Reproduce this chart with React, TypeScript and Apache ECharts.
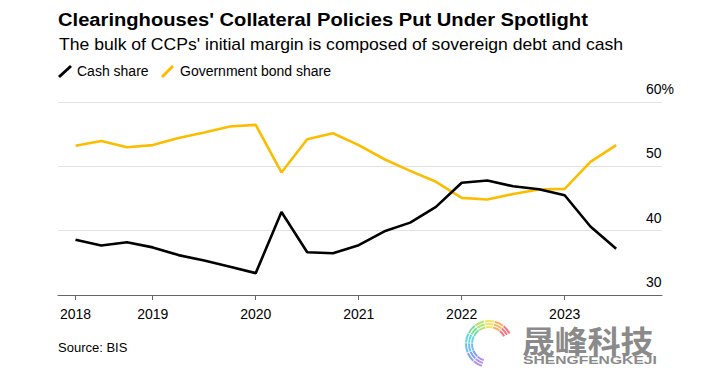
import React, { useEffect, useRef } from "react";
import * as echarts from "echarts";

const titleText = "Clearinghouses' Collateral Policies Put Under Spotlight";
const subtitleText = "The bulk of CCPs' initial margin is composed of sovereign debt and cash";
const sourceText = "Source: BIS";
const seriesNames = ["Cash share", "Government bond share"];

const quarters = [
  "2018 Q2", "2018 Q3", "2018 Q4",
  "2019 Q1", "2019 Q2", "2019 Q3", "2019 Q4",
  "2020 Q1", "2020 Q2", "2020 Q3", "2020 Q4",
  "2021 Q1", "2021 Q2", "2021 Q3", "2021 Q4",
  "2022 Q1", "2022 Q2", "2022 Q3", "2022 Q4",
  "2023 Q1", "2023 Q2", "2023 Q3",
];
const cashShare = [38.6, 37.7, 38.2, 37.4, 36.2, 35.35, 34.4, 33.4, 42.9, 36.65, 36.5, 37.75, 39.9, 41.25, 43.7, 47.45, 47.8, 46.9, 46.45, 45.5, 40.65, 37.2];
const govBondShare = [53.2, 53.95, 52.97, 53.3, 54.4, 55.25, 56.2, 56.45, 49.05, 54.2, 55.15, 53.3, 51.1, 49.3, 47.6, 45.1, 44.85, 45.7, 46.4, 46.5, 50.7, 53.3];

const yearTickIndex = [0, 3, 7, 11, 15, 19];
const yearLabels = ["2018", "2019", "2020", "2021", "2022", "2023"];
const yTicks = [30, 40, 50, 60];

const watermarkName = "晟峰科技";
const watermarkPinyin = "SHENGFENGKEJI";

const FONT = '"Liberation Sans", Arial, Helvetica, sans-serif';
const YELLOW = "#fcbd00";

function measure(text: string, font: string): number {
  const ctx = document.createElement("canvas").getContext("2d");
  if (!ctx) return 0;
  ctx.font = font;
  return ctx.measureText(text).width;
}

export default function App() {
  const ref = useRef<HTMLDivElement>(null);
  useEffect(() => {
    if (!ref.current) return;
    const chart = echarts.init(ref.current, null, { renderer: "svg" });
    const tW = measure(titleText, `bold 19px ${FONT}`) || 530;
    const sW = measure(subtitleText, `16px ${FONT}`) || 565;
    const wW = measure(watermarkPinyin, `bold 10px ${FONT}`) || 100;

    const txt = (x: number, y: number, text: string, size: number, weight: string, color: string, scaleX = 1, family = FONT, lineHeight?: number) => ({
      type: "text",
      x,
      y,
      scaleX,
      silent: true,
      style: {
        x: 0,
        y: 0,
        text,
        fontSize: size,
        fontWeight: weight,
        fontFamily: family,
        fill: color,
        lineHeight: lineHeight ?? size,
        textAlign: "left",
        textVerticalAlign: "middle",
        align: "left",
        verticalAlign: "middle",
      },
    });

    // watermark swirl logo
    const logoColors = ["#f25c6a", "#f7a541", "#f3df4a", "#a6e05a", "#5dd68a", "#4fd0d8", "#58b4f5", "#6d8ff0", "#a17cf0"];
    const logoArcs: any[] = [];
    logoColors.forEach((c, i) => {
      const a0 = Math.PI * (1.72 - i * 0.14);
      const a1 = a0 + Math.PI * 0.13;
      [23, 20, 17].forEach((r) => {
        logoArcs.push({
          type: "arc",
          silent: true,
          shape: { cx: 489, cy: 344, r, startAngle: a0, endAngle: a1 },
          style: { stroke: c, lineWidth: 2, fill: "none", opacity: 0.85 },
        });
      });
    });

    chart.setOption({
      animation: false,
      grid: { left: 58, right: 51, top: 102, bottom: 73, containLabel: false },
      xAxis: {
        type: "value",
        min: -0.68,
        max: 22.78,
        splitLine: { show: false },
        axisLine: { show: true, lineStyle: { color: "#666", width: 1 } },
        axisTick: { show: true, customValues: yearTickIndex, length: 5, lineStyle: { color: "#666", width: 1 } },
        axisLabel: {
          customValues: yearTickIndex,
          formatter: (v: number) => {
            const k = yearTickIndex.indexOf(Math.round(v));
            return k >= 0 ? yearLabels[k] : "";
          },
          color: "#000",
          fontSize: 14,
          fontFamily: FONT,
          margin: 12,
        },
      },
      yAxis: {
        type: "value",
        position: "right",
        min: yTicks[0],
        max: yTicks[yTicks.length - 1],
        interval: 10,
        axisLine: { show: false },
        axisTick: { show: false },
        splitLine: { show: true, lineStyle: { color: "#e2e2e2", width: 1 } },
        axisLabel: {
          formatter: (v: number) => (v === 60 ? "60%" : String(v)),
          color: "#000",
          fontSize: 14,
          fontFamily: FONT,
          margin: -16,
          align: "left",
          verticalAlign: "bottom",
          padding: [0, 0, 6, 0],
        },
      },
      series: [
        {
          name: seriesNames[1],
          type: "line",
          showSymbol: false,
          z: 2,
          lineStyle: { color: YELLOW, width: 2.6 },
          itemStyle: { color: YELLOW },
          data: govBondShare.map((v, i) => [i, v, quarters[i]]),
        },
        {
          name: seriesNames[0],
          type: "line",
          showSymbol: false,
          z: 3,
          lineStyle: { color: "#000", width: 2.6 },
          itemStyle: { color: "#000" },
          data: cashShare.map((v, i) => [i, v, quarters[i]]),
        },
      ],
      graphic: [
        txt(58, 19.5, titleText, 19, "bold", "#000", 530 / tW),
        txt(59, 44.5, subtitleText, 16, "normal", "#000", 565 / sW),
        { type: "line", silent: true, shape: { x1: 59, y1: 77, x2: 71, y2: 66 }, style: { stroke: "#000", lineWidth: 3 } },
        txt(77, 71, seriesNames[0], 14, "normal", "#000"),
        { type: "line", silent: true, shape: { x1: 162, y1: 77, x2: 173, y2: 66 }, style: { stroke: YELLOW, lineWidth: 3 } },
        txt(180, 71, seriesNames[1], 14, "normal", "#000"),
        txt(58, 347, sourceText, 13, "normal", "#000"),
        ...logoArcs,
        txt(522, 339, watermarkName, 31, "bold", "#8a8a8a", 1.06, '"Noto Sans CJK SC", sans-serif', 26),
        txt(523, 361, watermarkPinyin, 10, "bold", "#8a8a8a", 134 / wW, FONT, 10),
      ],
    });
    return () => chart.dispose();
  }, []);
  return <div ref={ref} style={{ position: "absolute", left: 0, top: 0, width: 713, height: 368 }} />;
}
